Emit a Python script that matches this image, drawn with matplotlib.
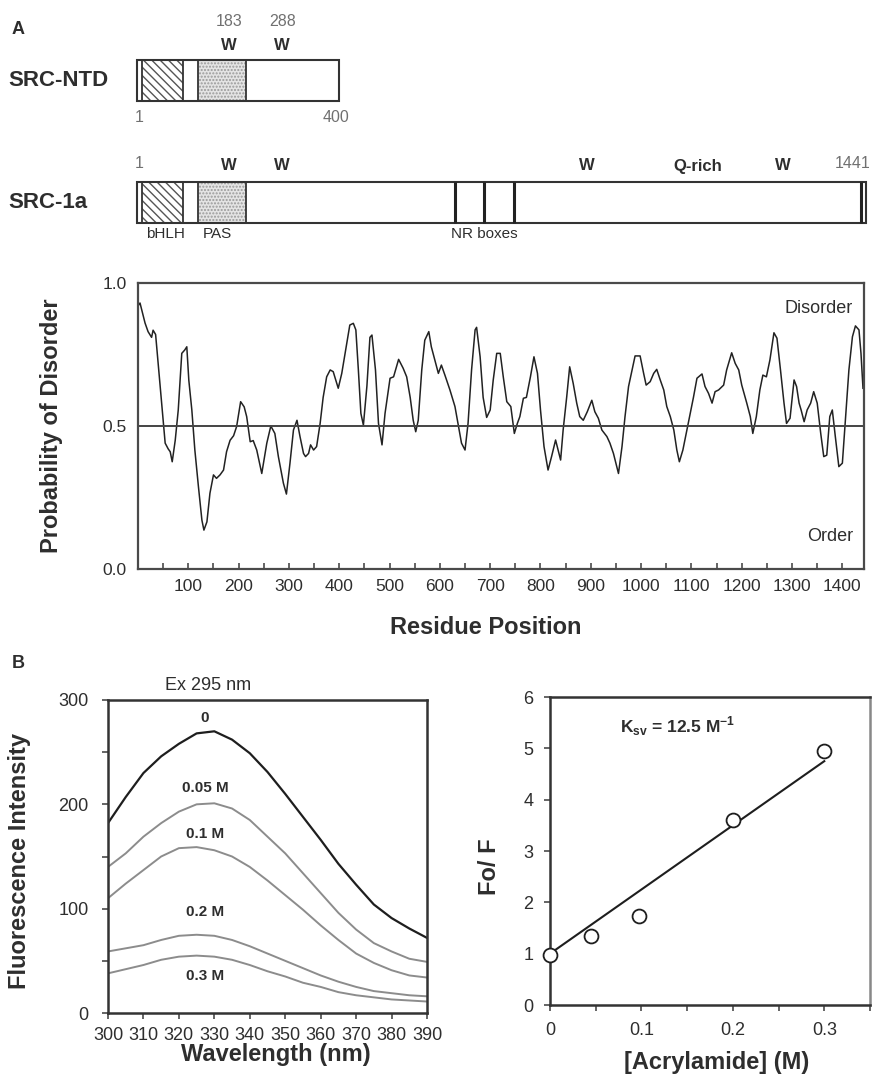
import matplotlib
matplotlib.use("Agg")
import matplotlib.pyplot as plt
from matplotlib.patches import Rectangle
from matplotlib.transforms import blended_transform_factory
from matplotlib.ticker import MultipleLocator, FixedLocator

plt.rcParams['font.family'] = ['Liberation Sans', 'DejaVu Sans']
plt.rcParams['mathtext.fontset'] = 'custom'
plt.rcParams['mathtext.rm'] = 'Liberation Sans'
plt.rcParams['mathtext.bf'] = 'Liberation Sans:bold'

# ---------------- data ----------------
# Domain map (residue numbers)
ntd_length = 400
full_length = 1441
bhlh_domain = (10, 91)
pas_domain = (122, 216)
nr_boxes = [629, 687, 746]
c_term_mark = 1432
trp_ntd = [183, 288]
trp_full = [183, 288, 889, 1277]
qrich_center = 1109

# Disorder prediction profile
residue = [0, 4, 14, 20, 27, 30, 35, 40, 47, 54, 60, 64, 68, 74, 80, 87, 93, 97,
           101, 107, 113, 120, 127, 131, 137, 143, 150, 156, 163, 170, 176, 183,
           190, 196, 204, 211, 216, 223, 229, 236, 246, 256, 264, 272, 279, 289,
           295, 302, 309, 316, 322, 329, 333, 339, 343, 349, 355, 362, 368, 375,
           382, 388, 398, 405, 415, 421, 428, 433, 438, 443, 448, 455, 461, 465,
           472, 478, 485, 491, 501, 508, 518, 527, 534, 541, 547, 552, 557, 564,
           570, 578, 583, 590, 597, 603, 610, 620, 630, 636, 643, 650, 656, 663,
           670, 673, 680, 686, 693, 700, 706, 713, 720, 726, 733, 741, 748, 754,
           759, 766, 772, 780, 787, 794, 800, 807, 815, 822, 830, 835, 840, 845,
           852, 858, 865, 872, 878, 885, 893, 902, 908, 915, 922, 932, 938, 945,
           955, 962, 968, 975, 982, 988, 998, 1005, 1010, 1018, 1025, 1031, 1038,
           1045, 1051, 1058, 1065, 1071, 1076, 1083, 1091, 1097, 1104, 1111, 1121,
           1127, 1134, 1141, 1147, 1154, 1164, 1170, 1180, 1187, 1194, 1200, 1210,
           1217, 1222, 1229, 1236, 1242, 1249, 1256, 1264, 1270, 1277, 1284, 1289,
           1296, 1304, 1309, 1314, 1318, 1324, 1330, 1337, 1343, 1350, 1357, 1363,
           1369, 1375, 1380, 1386, 1393, 1400, 1406, 1413, 1420, 1426, 1433, 1437,
           1441]
disorder = [0.92, 0.93, 0.86, 0.83, 0.81, 0.835, 0.82, 0.72, 0.58, 0.44, 0.42, 0.41,
            0.375, 0.45, 0.556, 0.754, 0.766, 0.777, 0.66, 0.556, 0.416, 0.29, 0.171,
            0.136, 0.165, 0.265, 0.329, 0.317, 0.329, 0.346, 0.41, 0.45, 0.466, 0.498,
            0.585, 0.567, 0.533, 0.445, 0.449, 0.416, 0.334, 0.44, 0.5, 0.474, 0.393,
            0.3, 0.262, 0.369, 0.486, 0.52, 0.463, 0.404, 0.393, 0.404, 0.434, 0.416,
            0.428, 0.509, 0.6, 0.672, 0.696, 0.69, 0.632, 0.684, 0.789, 0.853, 0.859,
            0.836, 0.696, 0.544, 0.503, 0.64, 0.81, 0.818, 0.696, 0.509, 0.434, 0.544,
            0.667, 0.672, 0.733, 0.702, 0.672, 0.6, 0.52, 0.48, 0.52, 0.696, 0.8, 0.83,
            0.777, 0.731, 0.684, 0.713, 0.678, 0.626, 0.568, 0.509, 0.44, 0.416, 0.509,
            0.696, 0.836, 0.845, 0.742, 0.6, 0.53, 0.556, 0.66, 0.754, 0.754, 0.672,
            0.585, 0.568, 0.474, 0.509, 0.533, 0.597, 0.6, 0.672, 0.742, 0.684, 0.556,
            0.428, 0.346, 0.393, 0.451, 0.416, 0.381, 0.486, 0.6, 0.707, 0.649, 0.58,
            0.533, 0.52, 0.55, 0.59, 0.55, 0.527, 0.486, 0.463, 0.44, 0.404, 0.334,
            0.428, 0.533, 0.638, 0.696, 0.745, 0.745, 0.684, 0.643, 0.655, 0.684, 0.698,
            0.661, 0.626, 0.568, 0.533, 0.486, 0.416, 0.375, 0.416, 0.486, 0.538, 0.6,
            0.667, 0.682, 0.638, 0.614, 0.58, 0.62, 0.626, 0.643, 0.696, 0.756, 0.719,
            0.696, 0.643, 0.58, 0.533, 0.474, 0.533, 0.626, 0.678, 0.672, 0.731, 0.826,
            0.807, 0.696, 0.58, 0.509, 0.527, 0.661, 0.638, 0.58, 0.556, 0.515, 0.556,
            0.58, 0.62, 0.58, 0.474, 0.393, 0.398, 0.533, 0.556, 0.463, 0.358, 0.37,
            0.52, 0.696, 0.812, 0.85, 0.836, 0.754, 0.632]

# Tryptophan fluorescence emission spectra (excitation 295 nm)
wavelength = [300, 305, 310, 315, 320, 325, 330, 335, 340, 345, 350, 355, 360,
              365, 370, 375, 380, 385, 390]
acrylamide_labels = ['0', '0.05 M', '0.1 M', '0.2 M', '0.3 M']
spec_0 = [182, 207, 230, 246, 258, 268, 270, 262, 249, 231, 210, 188, 166,
          143, 123, 104, 91, 81, 72]
spec_005 = [140, 153, 169, 182, 193, 200, 201, 196, 185, 169, 153, 134, 115,
            96, 80, 67, 59, 52, 49]
spec_01 = [110, 124, 137, 150, 158, 159, 156, 150, 140, 127, 113, 99, 84,
           70, 57, 48, 41, 36, 34]
spec_02 = [59, 62, 65, 70, 74, 75, 74, 70, 64, 57, 50, 43, 36, 30, 25, 21,
           19, 17, 16]
spec_03 = [38, 42, 46, 51, 54, 55, 54, 51, 46, 40, 35, 29, 25, 20, 17, 15,
           13, 12, 11]
spectra = [spec_0, spec_005, spec_01, spec_02, spec_03]

# Stern-Volmer analysis
acrylamide_conc = [0.0, 0.045, 0.097, 0.2, 0.3]
f0_over_f = [0.97, 1.35, 1.74, 3.6, 4.94]
ksv = 12.5
sv_intercept = 1.0

# ---------------- figure ----------------
W, H = 878, 1078
fig = plt.figure(figsize=(W / 100, H / 100), dpi=100)
TXT = '#2e2e2e'
SPINE = '#4a4a4a'


def px_axes(left, top, right, bottom):
    return fig.add_axes([left / W, 1 - bottom / H, (right - left) / W, (bottom - top) / H])


def ftext(x, y, s, **kw):
    kw.setdefault('color', TXT)
    fig.text(x / W, 1 - y / H, s, **kw)


# ---------- Panel A: domain maps ----------
ax0 = fig.add_axes([0, 1 - 260 / H, 1, 260 / H])
scale = (866 - 137) / (full_length - 1)
ax0.set_xlim(1 - 137 / scale, 1 + (W - 137) / scale)
ax0.set_ylim(260, 0)
ax0.axis('off')
fig_x = blended_transform_factory(fig.transFigure, ax0.transData)


def draw_domains(y0, length):
    h = 41
    ax0.add_patch(Rectangle((bhlh_domain[0], y0), bhlh_domain[1] - bhlh_domain[0], h,
                            facecolor='white', edgecolor='#555555', hatch='\\\\\\\\', lw=0))
    ax0.add_patch(Rectangle((pas_domain[0], y0), pas_domain[1] - pas_domain[0], h,
                            facecolor='#e4e4e4', edgecolor='#9a9a9a', hatch='.....', lw=0))
    for a, b in (bhlh_domain, pas_domain):
        ax0.add_patch(Rectangle((a, y0), b - a, h, facecolor='none',
                                edgecolor='#333333', lw=1.3))
    ax0.add_patch(Rectangle((1, y0), length - 1, h, facecolor='none',
                            edgecolor='#333333', lw=1.5))


draw_domains(60, ntd_length)
draw_domains(181.5, full_length)
for nr in nr_boxes:
    ax0.plot([nr, nr], [181.5, 222.5], color='#222222', lw=2.2, solid_capstyle='butt')
ax0.plot([c_term_mark, c_term_mark], [181.5, 222.5], color='#222222', lw=2.2,
         solid_capstyle='butt')

ax0.text(18 / W, 30, 'A', transform=fig_x, fontsize=13, fontweight='bold',
         color=TXT, ha='center', va='center')
ax0.text(8 / W, 80, 'SRC-NTD', transform=fig_x, fontsize=16, fontweight='bold',
         color=TXT, ha='left', va='center')
ax0.text(8 / W, 203, 'SRC-1a', transform=fig_x, fontsize=16, fontweight='bold',
         color=TXT, ha='left', va='center')

for pos in trp_ntd:
    ax0.text(pos, 21, str(pos), fontsize=11.5, color='#707070', ha='center', va='center')
    ax0.text(pos, 45, 'W', fontsize=12, fontweight='bold', color=TXT,
             ha='center', va='center')
ax0.text(6, 118, '1', fontsize=11.5, color='#707070', ha='center', va='center')
ax0.text(ntd_length - 6, 118, str(ntd_length), fontsize=11.5, color='#707070',
         ha='center', va='center')

ax0.text(6, 164, '1', fontsize=11.5, color='#707070', ha='center', va='center')
for pos in trp_full:
    ax0.text(pos, 166, 'W', fontsize=12, fontweight='bold', color=TXT,
             ha='center', va='center')
ax0.text(qrich_center, 166, 'Q-rich', fontsize=12, fontweight='bold', color=TXT,
         ha='center', va='center')
ax0.text(full_length + 8, 164, str(full_length), fontsize=11.5, color='#707070',
         ha='right', va='center')
ax0.text(sum(bhlh_domain) / 2 + 7, 234, 'bHLH', fontsize=11, color=TXT,
         ha='center', va='center')
ax0.text(sum(pas_domain) / 2 - 10, 234, 'PAS', fontsize=11, color=TXT,
         ha='center', va='center')
ax0.text(nr_boxes[1], 234, 'NR boxes', fontsize=11, color=TXT,
         ha='center', va='center')

# ---------- Panel A: disorder profile ----------
ax1 = px_axes(138, 283, 864, 569)
ax1.plot(residue, disorder, color='#222222', lw=1.1)
ax1.axhline(0.5, color='#444444', lw=1.4)
ax1.set_xlim(0, 1443)
ax1.set_ylim(0, 1)
ax1.xaxis.set_major_locator(FixedLocator(list(range(100, 1401, 100))))
ax1.xaxis.set_minor_locator(FixedLocator(list(range(50, 1441, 100))))
ax1.set_yticks([0, 0.5, 1.0])
ax1.set_yticklabels(['0.0', '0.5', '1.0'])
ax1.tick_params(axis='x', which='both', direction='in', length=4, width=1.2,
                color=SPINE, labelsize=12.5, labelcolor=TXT, pad=7)
ax1.tick_params(axis='y', length=0, labelsize=12.5, labelcolor=TXT, pad=8)
for sp in ax1.spines.values():
    sp.set_color(SPINE)
    sp.set_linewidth(1.6)
ax1.text(0.985, 0.91, 'Disorder', transform=ax1.transAxes, fontsize=13,
         color=TXT, ha='right', va='center')
ax1.text(0.985, 0.115, 'Order', transform=ax1.transAxes, fontsize=13,
         color=TXT, ha='right', va='center')
ftext(52, 426, 'Probability of Disorder', fontsize=17, fontweight='bold',
      rotation=90, ha='center', va='center')
ftext(486, 627, 'Residue Position', fontsize=17, fontweight='bold',
      ha='center', va='center')

# ---------- Panel B: emission spectra ----------
ftext(18, 663, 'B', fontsize=13, fontweight='bold', ha='center', va='center')
ax2 = px_axes(108, 700, 427, 1013)
line_colors = ['#1e1e1e', '#8c8c8c', '#8c8c8c', '#8c8c8c', '#8c8c8c']
line_widths = [1.6, 1.4, 1.4, 1.4, 1.4]
for spec, c, lw in zip(spectra, line_colors, line_widths):
    ax2.plot(wavelength, spec, color=c, lw=lw)
label_y = [283, 216, 172, 97, 35]
for lab, ly in zip(acrylamide_labels, label_y):
    ax2.text(327.4, ly, lab, fontsize=11, fontweight='bold', color=TXT,
             ha='center', va='center')
ax2.set_xlim(300, 390)
ax2.set_ylim(0, 300)
ax2.set_xticks(list(range(300, 391, 10)))
ax2.set_yticks([0, 100, 200, 300])
ax2.yaxis.set_minor_locator(FixedLocator([50, 150, 250]))
ax2.tick_params(axis='both', which='both', direction='out', length=4, width=1.2,
                color=SPINE, labelsize=13, labelcolor=TXT)
ax2.tick_params(axis='y', pad=10)
ax2.tick_params(axis='x', pad=6)
for sp in ax2.spines.values():
    sp.set_color('#333333')
    sp.set_linewidth(1.8)
ftext(208, 685, 'Ex 295 nm', fontsize=13, ha='center', va='center')
ftext(20, 861, 'Fluorescence Intensity', fontsize=17, fontweight='bold',
      rotation=90, ha='center', va='center')
ftext(276, 1055, 'Wavelength (nm)', fontsize=17, fontweight='bold',
      ha='center', va='center')

# ---------- Panel B: Stern-Volmer plot ----------
ax3 = px_axes(550, 697, 870, 1005)
fit_x = [acrylamide_conc[0], acrylamide_conc[-1]]
fit_y = [sv_intercept + ksv * x for x in fit_x]
ax3.plot(fit_x, fit_y, color='#1e1e1e', lw=1.5, zorder=2)
ax3.plot(acrylamide_conc, f0_over_f, linestyle='none', marker='o', markersize=10,
         markerfacecolor='white', markeredgecolor='#1e1e1e', markeredgewidth=1.3,
         zorder=3, clip_on=False)
ax3.set_xlim(0, 0.35)
ax3.set_ylim(0, 6)
ax3.set_xticks([0, 0.1, 0.2, 0.3])
ax3.set_xticklabels(['0', '0.1', '0.2', '0.3'])
ax3.xaxis.set_minor_locator(FixedLocator([0.05, 0.15, 0.25, 0.35]))
ax3.yaxis.set_major_locator(MultipleLocator(1))
ax3.tick_params(axis='both', which='both', direction='out', length=4, width=1.2,
                color=SPINE, labelsize=13, labelcolor=TXT)
ax3.tick_params(axis='y', pad=8)
ax3.tick_params(axis='x', pad=8)
for sp in ax3.spines.values():
    sp.set_color('#333333')
    sp.set_linewidth(1.8)
ax3.spines['right'].set_color('#888888')
ax3.text(0.22, 0.905, r'K$_{\mathbf{sv}}$ = 12.5 M$^{\mathbf{-1}}$', transform=ax3.transAxes,
         fontsize=12.5, fontweight='bold', color=TXT, ha='left', va='center')
ftext(490, 867, 'Fo/ F', fontsize=17, fontweight='bold', rotation=90,
      ha='center', va='center')
ftext(717, 1062, '[Acrylamide] (M)', fontsize=17, fontweight='bold',
      ha='center', va='center')

fig.savefig('out.png', dpi=100)
